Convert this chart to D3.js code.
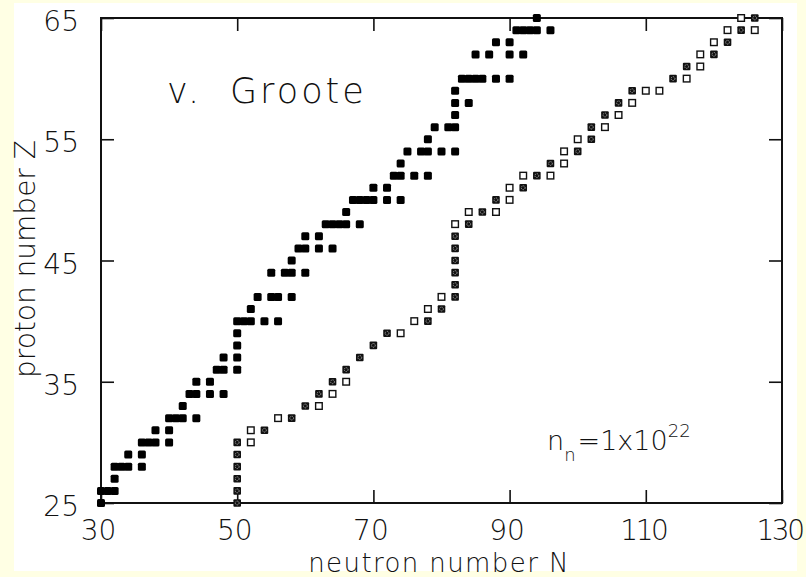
<!DOCTYPE html>
<html>
<head>
<meta charset="utf-8">
<script src="https://cdn.jsdelivr.net/npm/d3@7"></script>
<style>
  html, body { margin: 0; padding: 0; background: #ffffe4; }
  svg { display: block; }
  .lbl { font-family: "DejaVu Sans", sans-serif; font-weight: 200; fill: #111; }
</style>
</head>
<body>
<svg id="chart" width="806" height="577"></svg>
<script>
// r-process path, v. Groote model: [Z, neutron numbers]
var filledRows = [
  [25, [30]], [26, [30, 31, 32]], [27, [32]], [28, [32, 33, 34, 36]],
  [29, [34, 36]], [30, [36, 37, 38, 40]], [31, [38, 40]], [32, [40, 41, 42, 44]],
  [33, [42]], [34, [43, 44, 46, 48]], [35, [44, 46]], [36, [47, 48, 50]],
  [37, [48, 50]], [38, [50]], [39, [50]], [40, [50, 51, 52, 54, 56]],
  [41, [52]], [42, [53, 55, 56, 58]], [44, [55, 57, 58, 60]], [45, [58]],
  [46, [59, 60, 62, 64]], [47, [60, 62]], [48, [63, 64, 65, 66, 68]], [49, [66]],
  [50, [67, 68, 69, 70, 72, 74]], [51, [70, 72]], [52, [73, 74, 76, 78]], [53, [74]],
  [54, [75, 77, 78, 80, 82]], [55, [78]], [56, [79, 81, 82]], [57, [82]],
  [58, [82, 84]], [59, [82]], [60, [83, 84, 85, 86, 88, 90]],
  [62, [85, 87, 90, 92]], [63, [88, 90]], [64, [91, 92, 93, 94, 96]], [65, [94]]
];

var crossedRows = [
  [25, [50]], [26, [50]], [27, [50]], [28, [50]], [29, [50]], [30, [50]],
  [31, [54]], [32, [58]], [33, [60]], [34, [62]], [35, [64]], [36, [66]],
  [37, [68]], [38, [70]], [39, [72]], [40, [78]], [41, [80]], [42, [82]],
  [43, [82]], [44, [82]], [45, [82]], [46, [82]], [47, [82]], [48, [84]],
  [49, [86]], [50, [88]], [51, [92]], [52, [94]], [53, [96]], [54, [100]],
  [55, [102]], [56, [102]], [57, [104]], [58, [106]], [59, [108]], [60, [114]],
  [61, [116]], [62, [120]], [63, [122]], [64, [124]], [65, [126]]
];

var openRows = [
  [30, [52]], [31, [52]], [32, [56]], [33, [62]], [34, [64]], [35, [66]],
  [39, [74]], [40, [76]], [41, [78]], [42, [80]], [48, [82]], [49, [84, 88]],
  [50, [90]], [51, [90]], [52, [92, 96]], [53, [98]], [54, [98]], [55, [100]],
  [56, [104]], [57, [106]], [58, [108]], [59, [110, 112]], [60, [116]],
  [61, [118]], [62, [118]], [63, [120]], [64, [122, 126]], [65, [124]]
];

var xTicks = [30, 50, 70, 90, 110, 130];
var yTicks = [25, 35, 45, 55, 65];

function flatten(rows) {
  var out = [];
  rows.forEach(function(r) {
    r[1].forEach(function(n) { out.push({z: r[0], n: n}); });
  });
  return out;
}

var svg = d3.select("#chart");
var margin = {left: 101, right: 24, top: 18, bottom: 74};
var width = 806 - margin.left - margin.right;
var height = 577 - margin.top - margin.bottom;

svg.append("rect").attr("width", 806).attr("height", 577).attr("fill", "#ffffe4");
svg.append("rect").attr("x", 14).attr("y", 3).attr("width", 783).attr("height", 568).attr("fill", "#fff");

var x = d3.scaleLinear().domain([30, 130]).range([0, width]);
var y = d3.scaleLinear().domain([25, 65]).range([height, 0]);

var g = svg.append("g").attr("transform", "translate(" + margin.left + "," + margin.top + ")");

function styleAxis(sel) {
  sel.selectAll(".domain").remove();
  sel.selectAll(".tick line").attr("stroke", "#111").attr("stroke-width", 1.6);
  sel.selectAll(".tick text")
    .attr("class", "lbl")
    .style("font-size", "28px")
    .attr("fill", "#111");
}

var xAxisG = g.append("g").attr("transform", "translate(0," + height + ")")
  .call(d3.axisBottom(x).tickValues(xTicks).tickSize(-13).tickPadding(17).tickFormat(d3.format("d")))
  .call(styleAxis);
// numerals with a "1" are narrow in the original plotter font
xAxisG.selectAll(".tick text")
  .attr("dx", -3)
  .style("letter-spacing", function(d) { return String(d).indexOf("1") >= 0 ? "-2.5px" : null; });

g.append("g")
  .call(d3.axisTop(x).tickValues(xTicks).tickSize(-13).tickFormat(""))
  .call(styleAxis);
g.append("g")
  .call(d3.axisLeft(y).tickValues(yTicks).tickSize(-13).tickPadding(22).tickFormat(d3.format("d")))
  .call(styleAxis)
  .selectAll(".tick text").attr("dy", "0.45em");
g.append("g").attr("transform", "translate(" + width + ",0)")
  .call(d3.axisRight(y).tickValues(yTicks).tickSize(-13).tickFormat(""))
  .call(styleAxis);

g.append("rect")
  .attr("width", width).attr("height", height)
  .attr("fill", "none").attr("stroke", "#111").attr("stroke-width", 2);

// markers
var s = 8;
g.selectAll("rect.filled")
  .data(flatten(filledRows))
  .enter().append("rect")
  .attr("class", "filled")
  .attr("x", function(d) { return x(d.n) - s / 2; })
  .attr("y", function(d) { return y(d.z) - s / 2; })
  .attr("width", s).attr("height", s)
  .attr("rx", 1.5)
  .attr("fill", "#000");

var so = 6.6;
g.selectAll("rect.open")
  .data(flatten(openRows))
  .enter().append("rect")
  .attr("class", "open")
  .attr("x", function(d) { return x(d.n) - so / 2; })
  .attr("y", function(d) { return y(d.z) - so / 2; })
  .attr("width", so).attr("height", so)
  .attr("fill", "#fff").attr("stroke", "#111").attr("stroke-width", 1.4);

var crossed = g.selectAll("g.crossed")
  .data(flatten(crossedRows))
  .enter().append("g")
  .attr("class", "crossed")
  .attr("transform", function(d) { return "translate(" + x(d.n) + "," + y(d.z) + ")"; });
crossed.append("rect")
  .attr("x", -3.8).attr("y", -3.8).attr("width", 7.6).attr("height", 7.6)
  .attr("rx", 1).attr("fill", "#111");
crossed.append("circle")
  .attr("r", 1.9)
  .attr("fill", "none").attr("stroke", "#aaa").attr("stroke-width", 0.9)
  .attr("stroke-dasharray", "1.2,0.8");

// axis titles
svg.append("text").attr("class", "lbl")
  .attr("x", 439).attr("y", 572)
  .attr("text-anchor", "middle")
  .style("font-size", "26px")
  .style("letter-spacing", "1.4px")
  .text("neutron number N");

svg.append("text").attr("class", "lbl")
  .attr("transform", "translate(35,259) rotate(-90)")
  .attr("text-anchor", "middle")
  .style("font-size", "28px")
  .text("proton number Z");

// annotations
var title = svg.append("text").attr("class", "lbl")
  .attr("y", 103)
  .style("font-size", "35px")
  .style("letter-spacing", "3px");
title.append("tspan").attr("x", 167).text("v.");
title.append("tspan").attr("x", 230).text("Groote");

var nn = svg.append("text").attr("class", "lbl")
  .attr("x", 547).attr("y", 450)
  .style("font-size", "27px");
nn.append("tspan").text("n");
nn.append("tspan").attr("dy", 11).style("font-size", "18px").text("n");
nn.append("tspan").attr("dy", -11).attr("dx", 2).text("=1x10");
nn.append("tspan").attr("dy", -13).style("font-size", "18px").text("22");
</script>
</body>
</html>
